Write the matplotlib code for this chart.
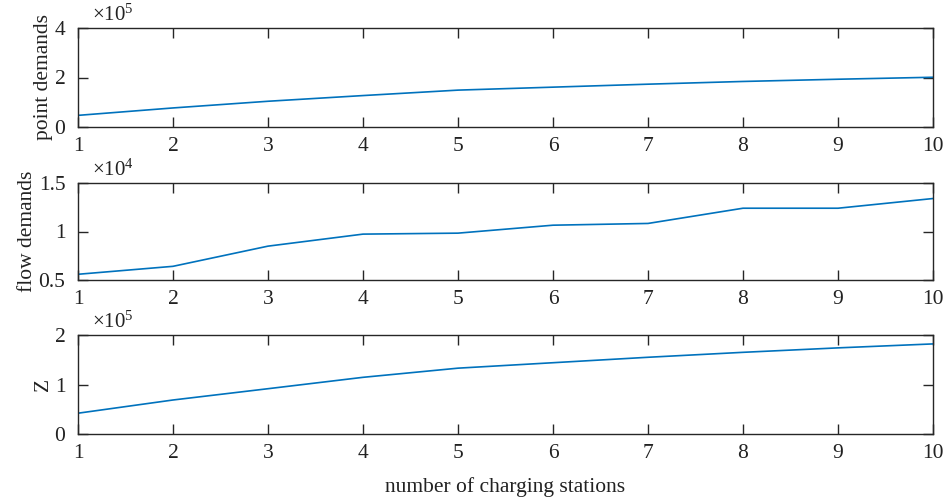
import matplotlib
matplotlib.use("Agg")
import matplotlib.pyplot as plt
from matplotlib.ticker import FuncFormatter

stations = [1, 2, 3, 4, 5, 6, 7, 8, 9, 10]
point_demands = [0.47e5, 0.77e5, 1.04e5, 1.27e5, 1.49e5, 1.61e5, 1.73e5, 1.84e5, 1.93e5, 2.01e5]
flow_demands = [5590, 6410, 8490, 9730, 9830, 10650, 10830, 12400, 12400, 13400]
z_values = [0.42e5, 0.687e5, 0.915e5, 1.145e5, 1.33e5, 1.44e5, 1.55e5, 1.65e5, 1.74e5, 1.82e5]

plt.rcParams['font.family'] = ['Liberation Serif', 'DejaVu Serif']
plt.rcParams['mathtext.fontset'] = 'stix'

W, H = 945, 497
fig = plt.figure(figsize=(W / 100, H / 100), dpi=100)

line_color = '#0072BD'
axis_color = '#262626'
text_color = '#222222'

panels = [
    (point_demands, 'point demands', (0, 4e5), [0, 2e5, 4e5], 1e5, 5, (28, 127)),
    (flow_demands, 'flow demands', (0.5e4, 1.5e4), [0.5e4, 1e4, 1.5e4], 1e4, 4, (183, 280)),
    (z_values, 'Z', (0, 2e5), [0, 1e5, 2e5], 1e5, 5, (335, 434)),
]

left, right = 78, 933
axes = []
for vals, label, ylim, yticks, scale, expo, (top, bot) in panels:
    ax = fig.add_axes([left / W, 1 - bot / H, (right - left) / W, (bot - top) / H])
    ax.plot(stations, vals, color=line_color, lw=1.2)
    ax.set_xlim(1, 10)
    ax.set_ylim(*ylim)
    ax.set_xticks(stations)
    ax.set_yticks(yticks)
    ax.yaxis.set_major_formatter(FuncFormatter(lambda v, p, s=scale: '%g' % (v / s)))
    ax.tick_params(axis='both', direction='in', top=True, right=True, length=7, width=1,
                   labelsize=15.5, colors=axis_color, labelcolor=text_color)
    ax.tick_params(axis='x', pad=7)
    ax.tick_params(axis='y', pad=9)
    for sp in ax.spines.values():
        sp.set_color(axis_color)
        sp.set_linewidth(1.0)
    ax.set_ylabel(label, fontsize=15.5, color=text_color, labelpad=1.5)
    ax.text(0.016, 1.02, r'$\mathregular{\times10^{%d}}$' % expo, transform=ax.transAxes,
            fontsize=15, color=text_color, ha='left', va='bottom')
    axes.append(ax)

axes[-1].set_xlabel('number of charging stations', fontsize=15.5, color=text_color, labelpad=10)

fig.savefig('out.png', dpi=100)
